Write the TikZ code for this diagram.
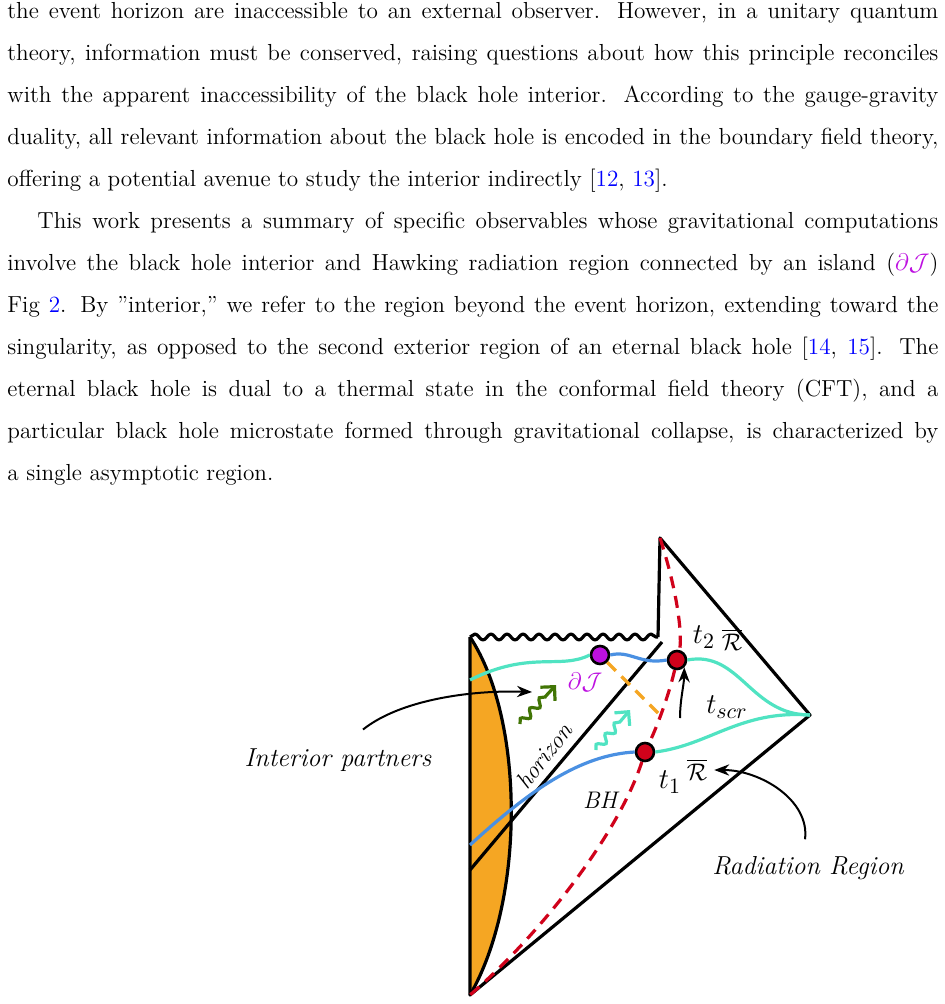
\documentclass[tikz,border=0pt]{standalone}
\usepackage{amsmath,amssymb}
\usepackage{xcolor}
\usetikzlibrary{decorations.pathmorphing,arrows.meta}
\definecolor{bhorange}{RGB}{245,166,35}
\definecolor{bhred}{RGB}{208,2,27}
\definecolor{bhcyan}{RGB}{80,227,194}
\definecolor{bhblue}{RGB}{74,144,226}
\definecolor{bhpurple}{RGB}{189,16,224}
\definecolor{bhgreen}{RGB}{65,117,5}
\definecolor{citeblue}{RGB}{0,0,255}
\tikzset{%
	edge line/.style={line width=1.6pt, line join=round},
	slice cyan/.style={bhcyan, line width=1.6pt},
	slice blue/.style={bhblue, line width=1.6pt},
	time dot/.style={circle, draw=black, line width=1.3pt, fill=bhred, minimum size=9pt, inner sep=0pt},
	photon/.style={line width=1.6pt, decorate, decoration={snake, amplitude=1.8pt, segment length=7pt, post length=6pt}, -{Straight Barb[length=5pt]}},
	label text/.style={font=\fontsize{13}{15}\selectfont\itshape},
}
\begin{document}
\begin{tikzpicture}[x=0.5pt, y=-0.5pt, >=Stealth]
\useasboundingbox (0,0) rectangle (945,1004);

% the text above
\node [anchor=north west, inner sep=0pt, text width=465.5pt, align=justify,
       font=\fontsize{11.6}{21}\selectfont] (body) at (7,2)
{\setlength{\parindent}{15pt}\noindent the event horizon are inaccessible to an external observer. However, in a unitary quantum\linebreak
theory, information must be conserved, raising questions about how this principle reconciles\linebreak
with the apparent inaccessibility of the black hole interior. According to the gauge-gravity\linebreak
duality, all relevant information about the black hole is encoded in the boundary field theory,\linebreak
offering a potential avenue to study the interior indirectly [{\color{citeblue}12}, {\color{citeblue}13}].\par
This work presents a summary of specific observables whose gravitational computations\linebreak
involve the black hole interior and Hawking radiation region connected by an island ({\color{bhpurple}$\partial\mathcal{J}$})\linebreak
Fig {\color{citeblue}2}. By "interior," we refer to the region beyond the event horizon, extending toward the\linebreak
singularity, as opposed to the second exterior region of an eternal black hole [{\color{citeblue}14}, {\color{citeblue}15}]. The\linebreak
eternal black hole is dual to a thermal state in the conformal field theory (CFT), and a\linebreak
particular black hole microstate formed through gravitational collapse, is characterized by\linebreak
a single asymptotic region.\par};

% collapsing shell
\coordinate (shell-top) at (470,637);
\coordinate (shell-bot) at (470,995);
\fill [bhorange] (shell-top) .. controls (525,720) and (525,900) .. (shell-bot) -- cycle;
\draw [edge line] (shell-top) .. controls (525,720) and (525,900) .. (shell-bot);

% Penrose diagram
\coordinate (sing-r) at (658,637);
\coordinate (top) at (660,538);
\coordinate (spatial) at (810,715);
\coordinate (hor-end) at (470,870);
\draw [edge line, decorate, decoration={snake, amplitude=1.5pt, segment length=8pt}] (shell-top) -- (sing-r);
\draw [edge line] (shell-top) -- (shell-bot) -- (spatial) -- (top) -- (sing-r);
\draw [edge line] (662,642) -- (hor-end);

% Cauchy slices
\node [time dot] (t2) at (677,660) {};
\node [time dot] (t1) at (645,752) {};
\node [circle, draw=black, line width=1.3pt, fill=bhpurple, minimum size=9pt, inner sep=0pt] (island) at (600,655) {};

\draw [slice cyan] (470,680) .. controls (530,650) and (560,670) .. (island.west);
\draw [slice blue] (island.east) .. controls (630,650) and (640,665) .. (t2.west);
\draw [slice cyan] (t2.east) .. controls (740,650) and (750,715) .. (spatial);
\draw [slice blue] (470,845) .. controls (530,790) and (580,755) .. (t1.west);
\draw [slice cyan] (t1.east) .. controls (710,745) and (740,710) .. (spatial);

% observer trajectory
\draw [bhred, line width=1.6pt, dash pattern=on 6pt off 4pt] (top) .. controls (680,600) and (682,640) .. (t2) .. controls (670,690) and (660,720) .. (t1) .. controls (620,830) and (545,930) .. (shell-bot);
\draw [bhorange, line width=1.6pt, dash pattern=on 6pt off 4pt] (island) -- (658,713);

% Hawking quanta
\draw [photon, bhgreen] (520,724) -- (556,685);
\draw [photon, bhcyan] (596,750) -- (630,710);

% labels
\node [text=bhpurple, font=\fontsize{12}{14}\selectfont] (island-lbl) at (585,682) {$\partial\mathcal{J}$};
\node [font=\fontsize{15}{17}\selectfont] (t2-lbl) at (704,637) {$t_2$};
\node [font=\fontsize{13}{15}\selectfont] (R2-lbl) at (732,640) {$\overline{\mathcal{R}}$};
\node [font=\fontsize{15}{17}\selectfont] (tscr-lbl) at (727,707) {$t_{scr}$};
\node [font=\fontsize{15}{17}\selectfont] (t1-lbl) at (670,782) {$t_1$};
\node [font=\fontsize{13}{15}\selectfont] (R1-lbl) at (697,770) {$\overline{\mathcal{R}}$};
\node [label text, font=\fontsize{12}{14}\selectfont\itshape] (bh-lbl) at (600,800) {BH};
\node [label text, font=\fontsize{12}{14}\selectfont\itshape, rotate=52, inner sep=1pt] (hor-lbl) at (544,756) {horizon};
\node [label text] (partners) at (338,760) {Interior partners};
\node [label text] (radiation) at (808,868) {Radiation Region};

% pointers
\draw [->, line width=1pt] (680,718) .. controls (680,700) and (684,685) .. (t2.south east);
\draw [->, line width=1pt] (partners.north) ++(25,-12) .. controls (400,700) and (470,690) .. (532,692);
\draw [->, line width=1pt] (radiation.north) ++(-3,-10) .. controls (810,800) and (760,770) .. (R1-lbl.east);
\end{tikzpicture}
\end{document}
